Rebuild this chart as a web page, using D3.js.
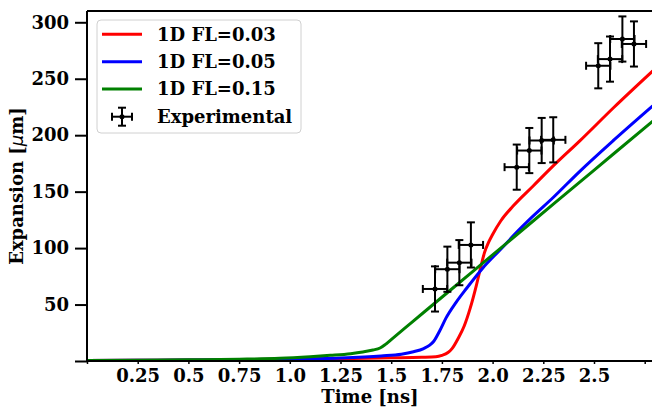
<!DOCTYPE html>
<html>
<head>
<meta charset="utf-8">
<script src="https://cdn.jsdelivr.net/npm/d3@7"></script>
<style>
  html, body { margin: 0; padding: 0; background: #fff; }
  svg { display: block; }
  text { font-family: "DejaVu Serif", serif; font-weight: bold; fill: #000; }
</style>
</head>
<body>
<svg id="chart" width="652" height="408"></svg>
<script>
// ---- Data ----
const seriesNames = ["1D FL=0.03", "1D FL=0.05", "1D FL=0.15"];
const seriesColors = ["#ff0000", "#0000ff", "#008000"];

const timeFL003 = [0, 0.25, 0.5, 0.75, 1.0, 1.25, 1.5, 1.65, 1.72, 1.75, 1.78, 1.80, 1.83, 1.86, 1.89, 1.92, 1.94, 1.96, 1.98, 2.0, 2.04, 2.1, 2.2, 2.3, 2.43, 2.6, 2.79];
const expFL003  = [0.5, 0.7, 0.9, 1.2, 1.6, 2.1, 2.8, 3.3, 3.8, 5, 7.5, 11, 20, 31, 47, 67, 82, 96, 105, 112, 124, 137, 155, 173, 195, 225, 257];

const timeFL005 = [0, 0.25, 0.5, 0.75, 1.0, 1.25, 1.45, 1.55, 1.61, 1.66, 1.69, 1.71, 1.74, 1.77, 1.82, 1.87, 1.95, 2.04, 2.135, 2.18, 2.3, 2.43, 2.6, 2.79];
const expFL005  = [0.4, 0.6, 0.8, 1.1, 1.6, 2.7, 4.5, 6, 8.2, 11, 14, 17.5, 27, 38, 52, 64, 82, 99, 117, 125, 145, 168, 196, 226];

const timeFL015 = [0, 0.25, 0.5, 0.75, 0.95, 1.1, 1.2, 1.3, 1.36, 1.41, 1.445, 1.47, 1.5, 1.6, 1.8, 2.0, 2.2, 2.4, 2.6, 2.79];
const expFL015  = [0.4, 0.7, 1.1, 1.6, 2.4, 3.8, 5, 6.5, 8, 9.7, 11.5, 14.5, 19, 34, 64, 94, 124, 154, 184, 212.5];

const expTime  = [1.716, 1.777, 1.836, 1.893, 2.119, 2.181, 2.242, 2.299, 2.521, 2.579, 2.640, 2.697];
const expValue = [63.8, 81.3, 87.1, 102.8, 171.7, 186.4, 195.3, 195.9, 261.5, 267.4, 285.2, 280.8];
const expTimeErr = [0.06, 0.06, 0.06, 0.06, 0.06, 0.06, 0.06, 0.06, 0.06, 0.06, 0.06, 0.06];
const expValueErr = [20, 20, 20, 20, 20, 20, 20, 20, 20, 20, 20, 20];

const xTicks = [0, 0.25, 0.5, 0.75, 1.0, 1.25, 1.5, 1.75, 2.0, 2.25, 2.5, 2.75];
const xTickLabels = ["", "0.25", "0.5", "0.75", "1.0", "1.25", "1.5", "1.75", "2.0", "2.25", "2.5", ""];
const yTicks = [0, 50, 100, 150, 200, 250, 300];
const yTickLabels = ["", "50", "100", "150", "200", "250", "300"];

const xLabel = "Time [ns]";
const legendExpLabel = "Experimental";

(function () {
// ---- Layout ----
const svg = d3.select("#chart");
const pLeft = 87, pRight = 652, pTop = 11, pBottom = 361;
const x = d3.scaleLinear().domain([0, 2.786]).range([pLeft, pRight]);
const y = d3.scaleLinear().domain([0, 310]).range([pBottom, pTop]);

svg.append("rect").attr("width", 652).attr("height", 408).attr("fill", "#fff");

const defs = svg.append("defs");
defs.append("clipPath").attr("id", "plotclip")
  .append("rect").attr("x", pLeft).attr("y", pTop).attr("width", pRight - pLeft).attr("height", pBottom - pTop);

// ---- Curves ----
const curves = [
  [timeFL003, expFL003],
  [timeFL005, expFL005],
  [timeFL015, expFL015]
];
const line = d3.line().x(d => x(d[0])).y(d => y(d[1])).curve(d3.curveMonotoneX);
const plot = svg.append("g").attr("clip-path", "url(#plotclip)");
curves.forEach((c, i) => {
  const pts = c[0].map((t, k) => [t, c[1][k]]);
  plot.append("path").datum(pts)
    .attr("d", line)
    .attr("fill", "none")
    .attr("stroke", seriesColors[i])
    .attr("stroke-width", 3)
    .attr("stroke-linejoin", "round");
});

// ---- Experimental error bars ----
const eg = svg.append("g");
const cap = 4;
expTime.forEach((t, i) => {
  const cx = x(t), cy = y(expValue[i]);
  const x0 = x(t - expTimeErr[i]), x1 = x(t + expTimeErr[i]);
  const y0 = y(expValue[i] - expValueErr[i]), y1 = y(expValue[i] + expValueErr[i]);
  eg.append("line").attr("x1", x0).attr("x2", x1).attr("y1", cy).attr("y2", cy)
    .attr("stroke", "#000").attr("stroke-width", 2);
  eg.append("line").attr("x1", cx).attr("x2", cx).attr("y1", y0).attr("y2", y1)
    .attr("stroke", "#000").attr("stroke-width", 2);
  [x0, x1].forEach(xx => eg.append("line").attr("x1", xx).attr("x2", xx)
    .attr("y1", cy - cap).attr("y2", cy + cap).attr("stroke", "#000").attr("stroke-width", 2));
  [y0, y1].forEach(yy => eg.append("line").attr("x1", cx - cap).attr("x2", cx + cap)
    .attr("y1", yy).attr("y2", yy).attr("stroke", "#000").attr("stroke-width", 2));
  eg.append("circle").attr("cx", cx).attr("cy", cy).attr("r", 2.5).attr("fill", "#000");
});

// ---- Axes ----
const xAxis = d3.axisBottom(x).tickValues(xTicks)
  .tickFormat((d, i) => xTickLabels[i]).tickSize(3).tickPadding(5);
const gx = svg.append("g").attr("transform", `translate(0,${pBottom})`).call(xAxis);
gx.select(".domain").remove();
gx.selectAll(".tick line").attr("stroke", "#000").attr("stroke-width", 1.5);
gx.selectAll(".tick text").attr("font-size", 18).attr("font-family", "DejaVu Serif").attr("font-weight", "bold");

const yAxis = d3.axisLeft(y).tickValues(yTicks)
  .tickFormat((d, i) => yTickLabels[i]).tickSize(12).tickPadding(6);
const gy = svg.append("g").attr("transform", `translate(${pLeft},0)`).call(yAxis);
gy.select(".domain").remove();
gy.selectAll(".tick line").attr("stroke", "#000").attr("stroke-width", 2);
gy.selectAll(".tick text").attr("font-size", 18).attr("font-family", "DejaVu Serif").attr("font-weight", "bold");

// spines
svg.append("line").attr("x1", pLeft).attr("x2", pRight).attr("y1", pBottom).attr("y2", pBottom)
  .attr("stroke", "#000").attr("stroke-width", 2);
svg.append("line").attr("x1", pLeft).attr("x2", pLeft).attr("y1", pTop).attr("y2", pBottom)
  .attr("stroke", "#000").attr("stroke-width", 2);
svg.append("line").attr("x1", pLeft).attr("x2", pRight).attr("y1", pTop).attr("y2", pTop)
  .attr("stroke", "#000").attr("stroke-width", 2);

// axis labels
svg.append("text").attr("x", 370).attr("y", 403)
  .attr("text-anchor", "middle").attr("font-size", 18).text(xLabel);

const yl = svg.append("text")
  .attr("transform", `translate(23,${(pTop + pBottom) / 2}) rotate(-90)`)
  .attr("text-anchor", "middle").attr("font-size", 18);
yl.append("tspan").text("Expansion [");
yl.append("tspan").attr("font-style", "italic").attr("font-weight", "normal").attr("font-family", "DejaVu Sans").text("\u03bc");
yl.append("tspan").text("m]");

// ---- Legend ----
const lg = svg.append("g");
lg.append("rect").attr("x", 97).attr("y", 20).attr("width", 204).attr("height", 113)
  .attr("rx", 4).attr("fill", "#fff").attr("fill-opacity", 0.8)
  .attr("stroke", "#d0d0d0").attr("stroke-width", 1);
const rowY = [34.3, 61.7, 89, 116.7];
seriesNames.forEach((n, i) => {
  lg.append("line").attr("x1", 102).attr("x2", 142).attr("y1", rowY[i]).attr("y2", rowY[i])
    .attr("stroke", seriesColors[i]).attr("stroke-width", 3);
  lg.append("text").attr("x", 157).attr("y", rowY[i]).attr("dy", "0.36em")
    .attr("font-size", 18).text(n);
});
{
  const cy = rowY[3], cx = 122;
  lg.append("line").attr("x1", cx - 10).attr("x2", cx + 10).attr("y1", cy).attr("y2", cy).attr("stroke", "#000").attr("stroke-width", 2);
  lg.append("line").attr("x1", cx).attr("x2", cx).attr("y1", cy - 9).attr("y2", cy + 9).attr("stroke", "#000").attr("stroke-width", 2);
  [cx - 10, cx + 10].forEach(xx => lg.append("line").attr("x1", xx).attr("x2", xx).attr("y1", cy - 4).attr("y2", cy + 4).attr("stroke", "#000").attr("stroke-width", 2));
  [cy - 9, cy + 9].forEach(yy => lg.append("line").attr("x1", cx - 4).attr("x2", cx + 4).attr("y1", yy).attr("y2", yy).attr("stroke", "#000").attr("stroke-width", 2));
  lg.append("circle").attr("cx", cx).attr("cy", cy).attr("r", 2.5).attr("fill", "#000");
  lg.append("text").attr("x", 157).attr("y", cy).attr("dy", "0.36em").attr("font-size", 18).text(legendExpLabel);
}
})();
</script>
</body>
</html>
